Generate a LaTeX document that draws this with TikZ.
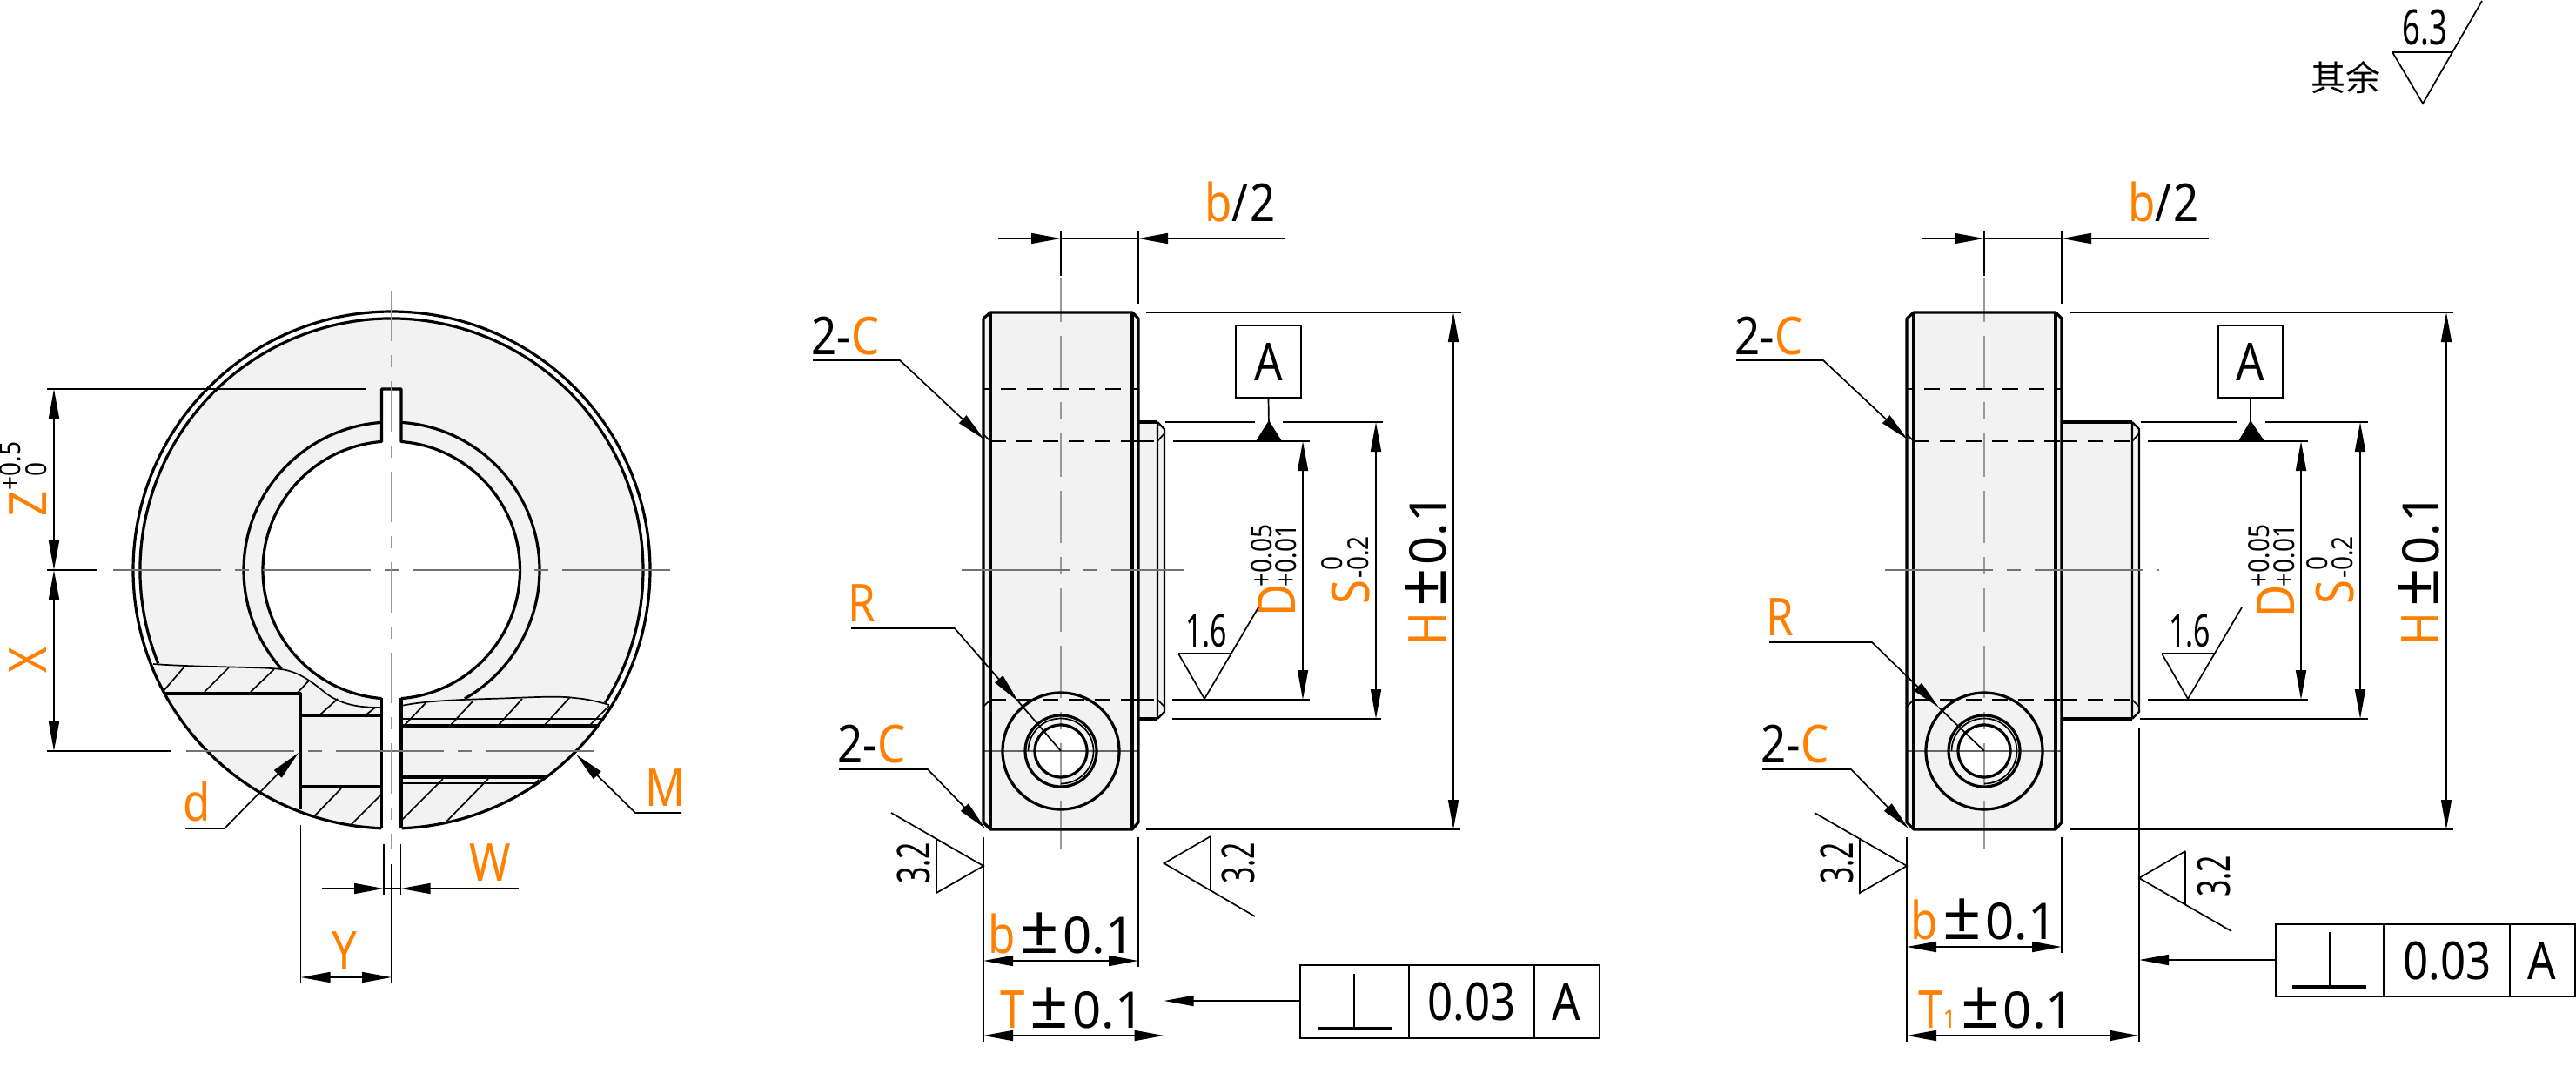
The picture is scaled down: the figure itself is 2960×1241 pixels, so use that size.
\documentclass[tikz,border=0pt]{standalone}
\usepackage{fontspec}
\usetikzlibrary{arrows.meta}
\newfontfamily\dimfamily[FakeStretch=0.85]{Noto Sans}
\newfontfamily\roughfamily[FakeStretch=0.65]{Noto Sans}
\newfontfamily\plainfamily{Noto Sans}
\newfontfamily\cjkfamily{Noto Sans CJK SC}
\definecolor{dimorange}{HTML}{FF8000}
\definecolor{partgray}{HTML}{F2F2F2}
\newcommand{\plmi}{\kern3pt{\plainfamily\fontsize{39}{39}\selectfont ±}\kern2pt{\plainfamily\fontsize{29}{29}\selectfont 0.1}}
\tikzset{
  thickline/.style={line width=1.6pt,line join=round},
  thinline/.style={line width=.85pt},
  midline/.style={line width=1.2pt},
  centerline/.style={line width=.6pt,black!55,dash pattern=on 62pt off 8pt on 8pt off 8pt},
  hiddenline/.style={line width=1pt,dash pattern=on 9pt off 6pt},
  dimline/.style={line width=.85pt,>={Triangle[length=17pt,width=6pt]}},
  lbl/.style={font=\dimfamily\fontsize{30}{30}\selectfont,inner sep=0pt,anchor=base west},
  smalllbl/.style={font=\dimfamily\fontsize{16.5}{16.5}\selectfont,inner sep=0pt,anchor=base west},
  roughlbl/.style={font=\roughfamily\fontsize{26}{26}\selectfont,inner sep=0pt,anchor=base west},
  orangelbl/.style={lbl,text=dimorange}
}
% body of a side view, at the place of the middle one
\newcommand{\sidebody}{
  \fill[partgray] (1138,359)--(1301,359)--(1308,366)--(1308,945)--(1301,953)--(1138,953)--(1130,945)--(1130,366)--cycle;
  \fill[white] (1219,863) circle [radius=30];
  % hidden lines
  \draw[thinline] (1130,447)--(1138,447) (1301,447)--(1308,447);
  \draw[hiddenline,line width=.85pt] (1150,447)--(1300,447);
  \draw[hiddenline] (1138,507)--(1308,507);
  \draw[hiddenline] (1138,804)--(1308,804);
  \draw[thinline] (1130,499)--(1138,507) (1130,812)--(1138,804);
  % centre lines
  \draw[line width=.6pt,black!40,dash pattern=on 25pt off 8pt on 30pt off 8pt on 10pt off 8pt] (1219,320)--(1219,976);
  \draw[thinline] (1219,266)--(1219,317);
  \draw[line width=.6pt,black!60] (1131,863)--(1307,863);
  % outline
  \draw[thickline] (1130,945)--(1130,366)--(1138,359)--(1301,359)--(1308,366)--(1308,945)--(1301,953)--(1138,953)--cycle;
  \draw[thickline] (1138,359)--(1138,953) (1301,359)--(1301,953);
  % screw hole
  \draw[thickline] (1219,863) circle [radius=67] (1219,863) circle [radius=41] (1219,863) circle [radius=30];
  \draw[thinline] (1219,863)++(180:37.5) arc [start angle=180,end angle=450,radius=37.5];
  % b/2
  \draw[dimline,->] (1147,274)--(1219,274);
  \draw[dimline,->] (1477,274)--(1308,274);
  \draw[thinline] (1219,274)--(1308,274) (1308,266)--(1308,349);
  \node[lbl] (halfb) at (1384,255) {\textcolor{dimorange}{b}/\kern1pt 2};
  % chamfers
  \node[lbl] (chamfertop) at (932,407) {2-\textcolor{dimorange}{C}};
  \draw[dimline,->] (934,414)--(1034,414)--(1131,505);
  \node[lbl] (chamferlow) at (962,876) {2-\textcolor{dimorange}{C}};
  \draw[dimline,->] (964,884)--(1066,884)--(1132,952);
  % finish mark on the left
  \draw[thinline] (1024,934)--(1130,995)--(1076,1026)--(1076,965);
  \node[roughlbl,rotate=90] (finishleft) at (1068,1016) {3.2};
  % extension lines
  \draw[thinline] (1130,962)--(1130,1197);
}
\begin{document}
\begin{tikzpicture}[x=.5pt,y=-.5pt]
\useasboundingbox (0,0) rectangle (2960,1241);
% front view
\fill[partgray,even odd rule] (450,655) circle [radius=289] (450,655) circle [radius=148];
\begin{scope}
  \clip (450,655) circle [radius=297];
  \fill[partgray] (176,763) .. controls (230,767) and (300,766) .. (323,769) .. controls (345,772) and (360,785) .. (375,797) .. controls (395,812) and (420,813) .. (438,813) -- (438,960) -- (100,960) -- cycle;
  \fill[partgray] (461,811) .. controls (490,805) and (530,804) .. (560,803) .. controls (600,802) and (640,799) .. (660,802) .. controls (675,803) and (690,807) .. (700,810) -- (800,810) -- (800,960) -- (461,960) -- cycle;
\end{scope}
\fill[white] (438.5,447) rectangle (461,520);
\fill[white] (438.5,800) rectangle (461,960);
\draw[thinline] (176,763) .. controls (230,767) and (300,766) .. (323,769) .. controls (345,772) and (360,785) .. (375,797) .. controls (395,812) and (420,813) .. (438,813);
\draw[thinline] (461,811) .. controls (490,805) and (530,804) .. (560,803) .. controls (600,802) and (640,799) .. (660,802) .. controls (675,803) and (690,807) .. (700,810);
% hatching
\foreach \xa/\ya/\xb/\yb in {187/795/212/766,235/795/263/767,288/795/315/769,341/797/355/782,368/821/388/803,421/821/431/813,361/938/392/906,403/948/438/913,465/833/489/808,518/833/544/805,573/833/600/803,626/833/655/801,678/833/700/811,461/943/509/895,513/944/561/895,605/910/619/896}
  \draw[thinline] (\xa,\ya)--(\xb,\yb);
\draw[thickline] (450,655)++(92.22:297) arc [start angle=92.22,end angle=447.78,radius=297];
\draw[thickline] (450,655)++(158.2:289) arc [start angle=158.2,end angle=391.9,radius=289];
\draw[thickline] (450,655)++(94.46:148) arc [start angle=94.46,end angle=265.54,radius=148] --++(0,-60.5)--(461,447)--++(0,60.5) arc [start angle=274.46,end angle=445.54,radius=148];
\draw[thickline] (450,655)++(138.1:170) arc [start angle=138.1,end angle=266.12,radius=170];
\draw[thickline] (450,655)++(273.88:170) arc [start angle=273.88,end angle=420.4,radius=170];
\draw[thickline] (438.5,802)--(438.5,952) (461,802)--(461,952);
\draw[thickline] (189.5,797)--(345.6,797)--(345.6,930) (345.6,822)--(438.5,822) (345.6,904)--(438.5,904);
\draw[thickline] (461,834)--(688,834) (461,893)--(627,893);
\draw[thinline] (461,826)--(692,826) (461,900)--(616,900);
% front view centre lines
\draw[centerline] (130,655)--(771,655);
\draw[centerline] (214,863)--(686,863);
\draw[line width=.6pt,black!40,dash pattern=on 29pt off 8pt on 7pt off 8pt] (450,334)--(450,976);
% front view dimensions
\draw[thinline] (54,447)--(421,447) (54,863)--(196,863);
\draw[midline] (54,655)--(112,655);
\draw[dimline,<->] (62,447)--(62,655);
\draw[dimline,<->] (62,655)--(62,863);
\node[orangelbl,rotate=90] (depthz) at (54,594) {Z};
\node[smalllbl,rotate=90] (depthzup) at (23.5,564) {+0.5};
\node[smalllbl,rotate=90] (depthzlow) at (54,548) {0};
\node[orangelbl,rotate=90] (depthx) at (54,774) {X};
\node[orangelbl] (holed) at (210,943) {d};
\draw[dimline,->] (213,952)--(258,952)--(343,865);
\node[orangelbl] (threadm) at (741,926) {M};
\draw[dimline,->] (783,934)--(730,934)--(662,867);
\node[orangelbl] (slitw) at (539,1012) {W};
\draw[thinline] (441,970)--(441,1028) (460.5,970)--(460.5,1028) (441,1021)--(460.5,1021);
\draw[dimline,->] (369.5,1021)--(441,1021);
\draw[dimline,->] (596,1021)--(460.5,1021);
\node[orangelbl] (holey) at (381,1113) {Y};
\draw[thinline] (345.6,948)--(345.6,1130) (450,993)--(450,1130);
\draw[dimline,<->] (345.6,1123)--(450,1123);
% middle view, short boss
\fill[partgray] (1308,485)--(1330,485)--(1338,493)--(1338,818)--(1330,826)--(1308,826)--cycle;
\sidebody
\draw[thickline] (1308,485)--(1330,485);
\draw[midline] (1330,485)--(1338,493)--(1338,818)--(1330,826) (1330,485)--(1330,826);
\draw[thickline] (1330,826)--(1308,826);
\draw[hiddenline] (1308,507)--(1338,507) (1308,804)--(1330,804);
\draw[thinline] (1338,498)--(1330,507) (1338,812)--(1330,804);
\draw[centerline] (1105,655)--(1361,655);
\node[orangelbl] (radiusr) at (974,714) {R};
\draw[dimline,->] (978,722)--(1097,722)--(1170,806);
\draw[thinline] (1170,806)--(1219,863);
\draw[thinline] (1317,359)--(1679,359);
\draw[thinline] (1317,953)--(1678,953);
\draw[dimline,<->] (1670,359)--(1670,953);
\draw[midline] (1339,485)--(1442,485) (1474,485)--(1589,485) (1347,826)--(1587,826);
\draw[dimline,<->] (1581,485)--(1581,826);
\draw[midline] (1348,507)--(1505,507) (1347,804)--(1505,804);
\draw[dimline,<->] (1497,507)--(1497,804);
\node[draw,midline,minimum width=37.5pt,minimum height=41.5pt,inner sep=0pt,font=\dimfamily\fontsize{30}{30}\selectfont] (datuma) at (1457.5,415.5) {A};
\draw[thinline] (datuma.south)--(1458,490);
\fill (1443,507)--(1458,483)--(1473,507)--cycle;
\node[lbl,rotate=90] (heighth) at (1661,742) {\textcolor{dimorange}{H}\plmi};
\node[orangelbl,rotate=90] (holedia) at (1488,709) {D};
\node[smalllbl,rotate=90] (holediaup) at (1461,675) {+0.05};
\node[smalllbl,rotate=90] (holedialow) at (1489,675) {+0.01};
\node[orangelbl,rotate=90] (bosss) at (1573,695) {S};
\node[smalllbl,rotate=90] (bosssup) at (1542,656) {0};
\node[smalllbl,rotate=90] (bossslow) at (1572,665) {-0.2};
\draw[thinline] (1354,751)--(1414,751);
\draw[thinline] (1354,751)--(1384,803)--(1446,698);
\node[roughlbl] (finishbore) at (1362,743) {1.6};
\draw[thinline] (1308,962)--(1308,1111) (1337.5,837)--(1337.5,1197);
\draw[thinline] (1391,961)--(1337.5,992)--(1442,1053) (1391,961)--(1391,1023);
\node[roughlbl,rotate=90] (finishright) at (1441,1016) {3.2};
\draw[dimline,<->] (1130,1104)--(1308,1104);
\node[lbl] (widthb) at (1135,1095) {\textcolor{dimorange}{b}\plmi};
\draw[dimline,<->] (1130,1190)--(1337.5,1190);
\node[lbl] (widtht) at (1149,1181) {\textcolor{dimorange}{T}\plmi};
\draw[midline] (1494,1109) rectangle (1838,1193) (1619,1109)--(1619,1193) (1763,1109)--(1763,1193);
\draw[thickline] (1514,1182)--(1599,1182);
\draw[midline] (1556,1119)--(1556,1182);
\node[lbl,anchor=base] (toleranceb) at (1691,1172) {0.03};
\node[lbl,anchor=base] (refa) at (1800,1172) {A};
\draw[dimline,->] (1494,1150)--(1337.5,1150);
% right view, long boss
\begin{scope}[shift={(1061,0)}]
  \fill[partgray] (1308,485)--(1389,485)--(1397,493)--(1397,818)--(1389,826)--(1308,826)--cycle;
  \sidebody
  \draw[thickline] (1308,485)--(1389,485);
  \draw[midline] (1389,485)--(1397,493)--(1397,818)--(1389,826) (1389,485)--(1389,826);
  \draw[thickline] (1389,826)--(1308,826);
  \draw[hiddenline] (1308,507)--(1397,507) (1308,804)--(1389,804);
  \draw[thinline] (1397,498)--(1389,507) (1397,812)--(1389,804);
\end{scope}
\draw[centerline] (2166,655)--(2481,655);
\node[orangelbl] (radiusrr) at (2029,730) {R};
\draw[dimline,->] (2033,738)--(2151,738)--(2228,813);
\draw[thinline] (2228,813)--(2280,863);
\draw[thinline] (2378,359)--(2819,359);
\draw[thinline] (2378,953)--(2819,953);
\draw[dimline,<->] (2811,359)--(2811,953);
\draw[midline] (2460,485)--(2571,485) (2603,485)--(2721,485) (2459,826)--(2721,826);
\draw[dimline,<->] (2712,485)--(2712,826);
\draw[midline] (2468,507)--(2652,507) (2468,804)--(2652,804);
\draw[dimline,<->] (2644,507)--(2644,804);
\node[draw,midline,minimum width=37.5pt,minimum height=41.5pt,inner sep=0pt,font=\dimfamily\fontsize{30}{30}\selectfont] (datumar) at (2586,415.5) {A};
\draw[thinline] (datumar.south)--(2586,490);
\fill (2572,507)--(2586,483)--(2602,507)--cycle;
\node[lbl,rotate=90] (heighthr) at (2802,742) {\textcolor{dimorange}{H}\plmi};
\node[orangelbl,rotate=90] (holediar) at (2636,710) {D};
\node[smalllbl,rotate=90] (holediaupr) at (2607,675) {+0.05};
\node[smalllbl,rotate=90] (holedialowr) at (2636,675) {+0.01};
\node[orangelbl,rotate=90] (bosssr) at (2704,695) {S};
\node[smalllbl,rotate=90] (bosssupr) at (2674,656) {0};
\node[smalllbl,rotate=90] (bossslowr) at (2703,665) {-0.2};
\draw[thinline] (2484,751)--(2545,751);
\draw[thinline] (2484,751)--(2514,803)--(2576,698);
\node[roughlbl] (finishborer) at (2492,743) {1.6};
\draw[thinline] (2369,962)--(2369,1095) (2458,837)--(2458,1197);
\draw[thinline] (2511,978)--(2458,1009)--(2564,1070) (2511,978)--(2511,1039);
\node[roughlbl,rotate=90] (finishrightr) at (2562,1031) {3.2};
\draw[dimline,<->] (2191,1088)--(2369,1088);
\node[lbl] (widthbr) at (2195,1079) {\textcolor{dimorange}{b}\plmi};
\draw[dimline,<->] (2191,1190)--(2458,1190);
\node[lbl] (widthtr) at (2204,1181) {\textcolor{dimorange}{T{\fontsize{15}{15}\selectfont 1}}\plmi};
\draw[midline] (2615,1062) rectangle (2959,1145) (2739,1062)--(2739,1145) (2884,1062)--(2884,1145);
\draw[thickline] (2634,1134)--(2719,1134);
\draw[midline] (2677,1071)--(2677,1134);
\node[lbl,anchor=base] (tolerancebr) at (2812,1125) {0.03};
\node[lbl,anchor=base] (refar) at (2921,1125) {A};
\draw[dimline,->] (2615,1103)--(2458,1103);
% general finish
\node[font=\cjkfamily\fontsize{20}{20}\selectfont,inner sep=0pt] (restnote) at (2695,89) {其余};
\draw[thinline] (2749,60)--(2817,60);
\draw[thinline] (2749,60)--(2784,119)--(2852,1);
\node[roughlbl,font=\roughfamily\fontsize{28}{28}\selectfont] (finishrest) at (2760,52) {6.3};
\end{tikzpicture}
\end{document}
